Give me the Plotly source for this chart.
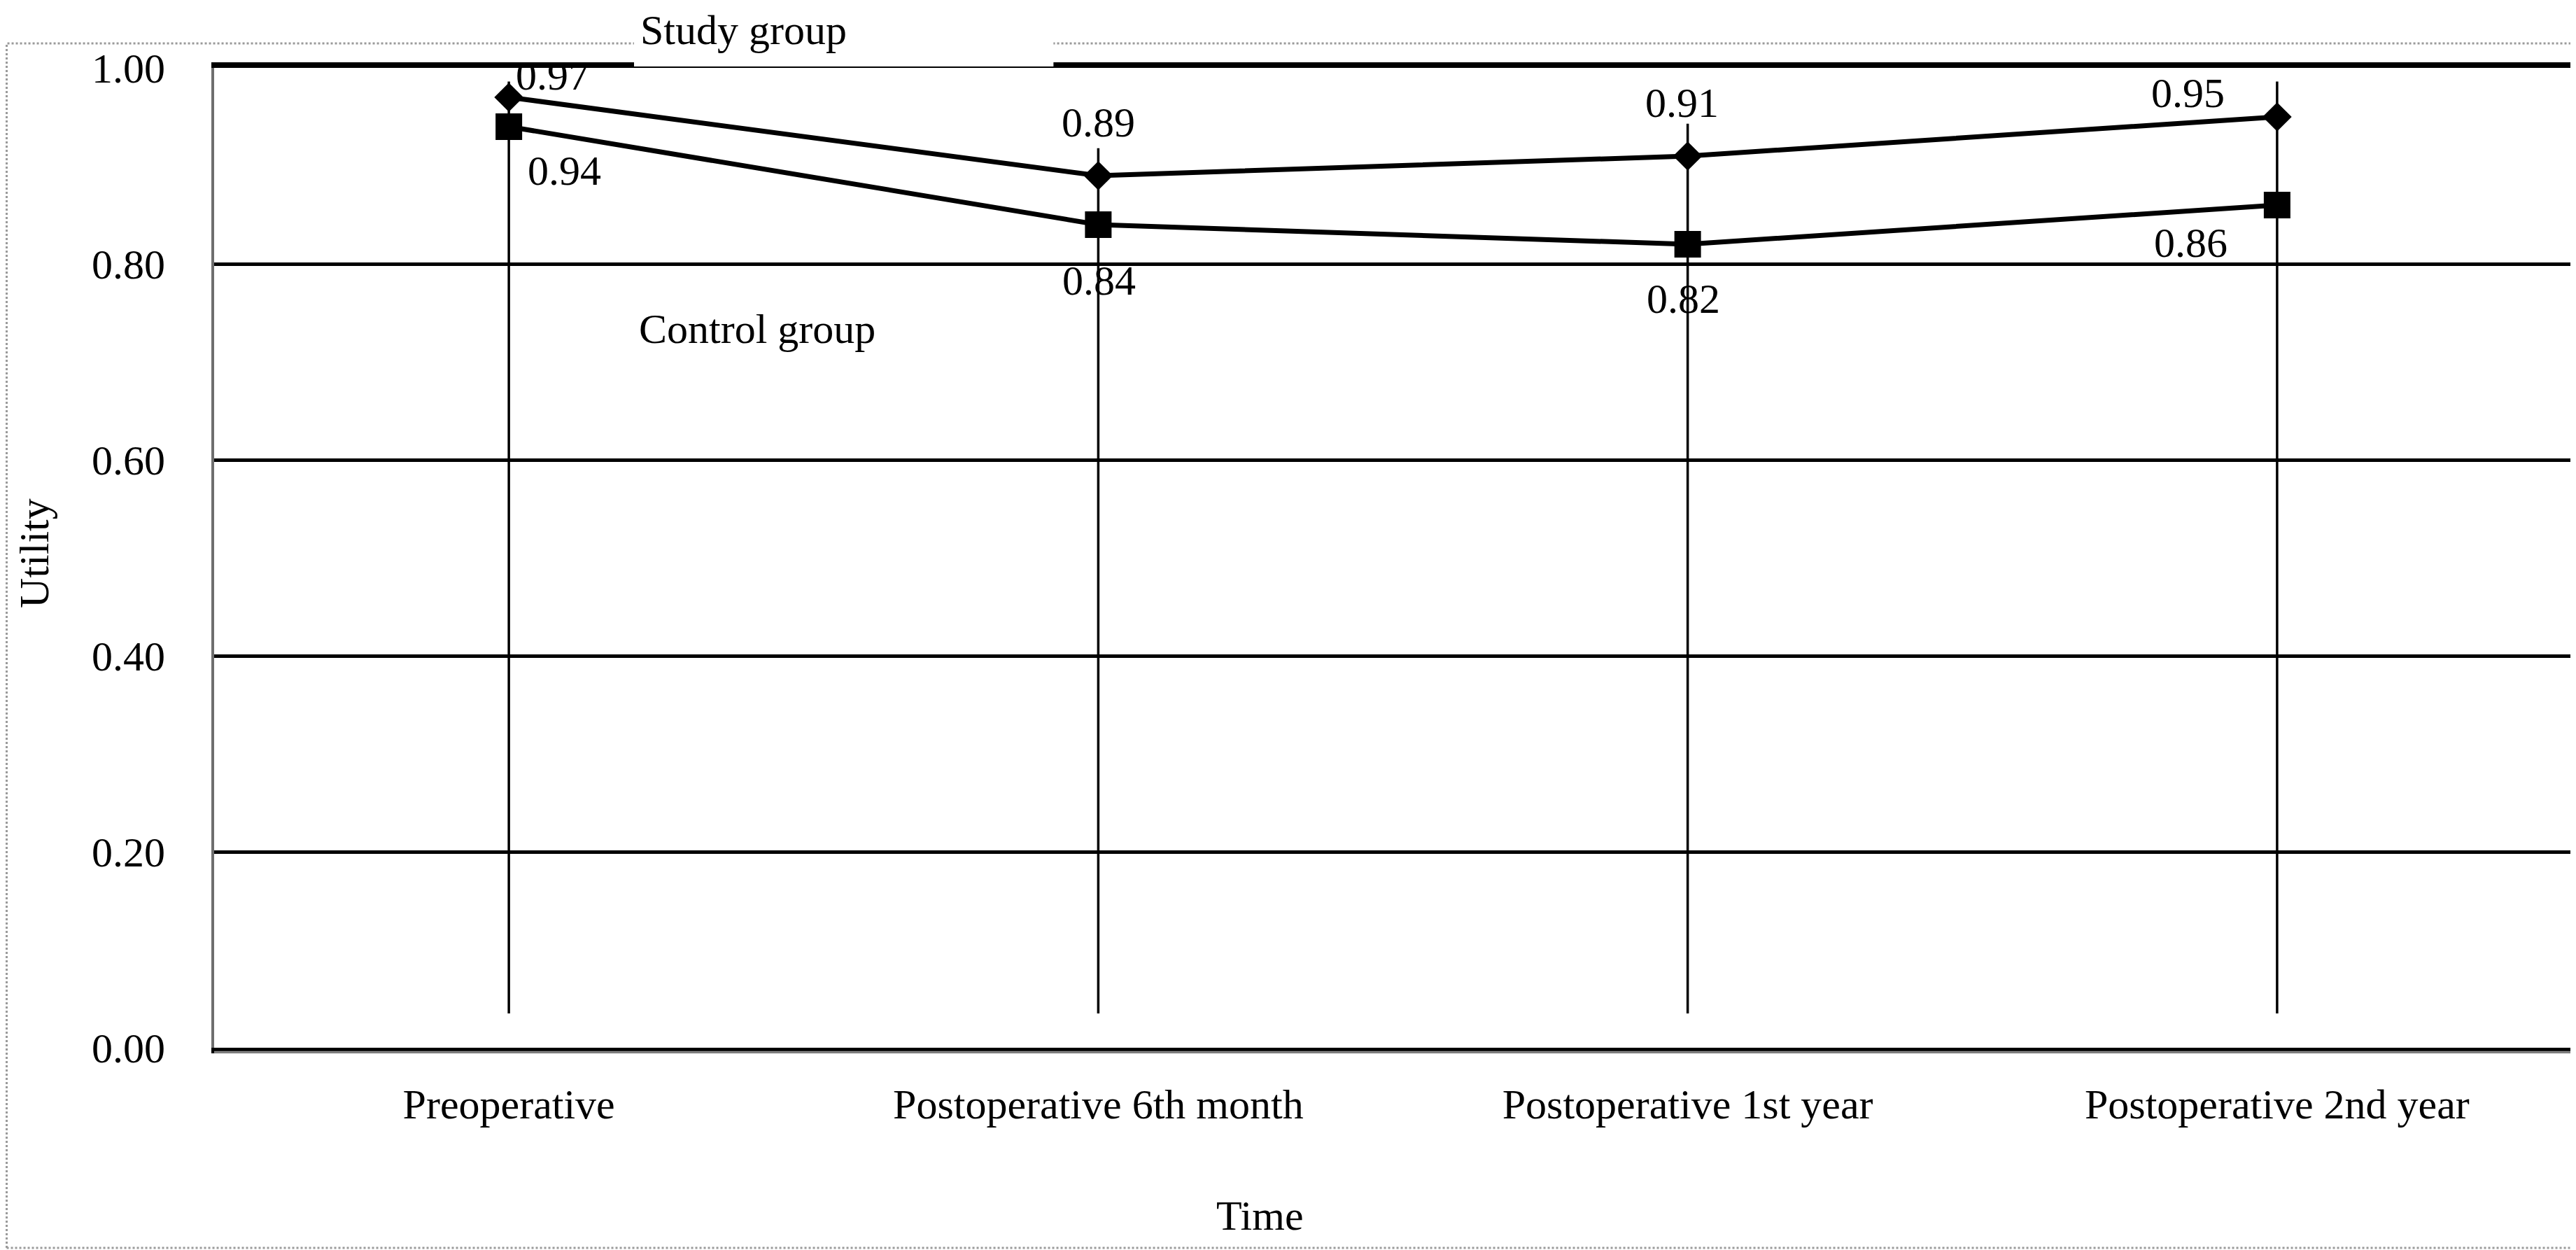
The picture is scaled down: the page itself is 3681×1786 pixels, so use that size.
import plotly.graph_objects as go

categories = ["Preoperative", "Postoperative 6th month", "Postoperative 1st year", "Postoperative 2nd year"]
study_group = [0.97, 0.89, 0.91, 0.95]
control_group = [0.94, 0.84, 0.82, 0.86]
vline_bottom = [0.035, 0.035, 0.035, 0.035]
vline_top = [0.986, 0.918, 0.943, 0.986]
y_ticks = [0.0, 0.2, 0.4, 0.6, 0.8, 1.0]
y_tick_labels = ["0.00", "0.20", "0.40", "0.60", "0.80", "1.00"]

FONT = "Liberation Serif, Times New Roman, serif"
FS = 60

fig = go.Figure()

# vertical drop lines
vx, vy = [], []
for c, b, t in zip(categories, vline_bottom, vline_top):
    vx += [c, c, None]
    vy += [b, t, None]
fig.add_trace(go.Scatter(x=vx, y=vy, mode="lines", line=dict(color="black", width=3.5),
                         showlegend=False, hoverinfo="skip"))

fig.add_trace(go.Scatter(x=categories, y=study_group, mode="lines+markers", name="Study group",
                         line=dict(color="black", width=7),
                         marker=dict(symbol="diamond", size=32, color="black"), showlegend=False))
fig.add_trace(go.Scatter(x=categories, y=control_group, mode="lines+markers", name="Control group",
                         line=dict(color="black", width=7),
                         marker=dict(symbol="square", size=38, color="black"), showlegend=False))

# data labels (offsets in px: dx, dy up)
study_offsets = [(62, 31), (0, 76), (-8, 76), (-127, 34)]
control_offsets = [(79, -63), (1, -80), (-6, -78), (-123, -54)]
for c, v, (dx, dy) in zip(categories, study_group, study_offsets):
    fig.add_annotation(x=c, y=v, xref="x", yref="y", text=f"{v:.2f}", showarrow=False,
                       xshift=dx, yshift=dy, font=dict(family=FONT, size=FS, color="black"))
for c, v, (dx, dy) in zip(categories, control_group, control_offsets):
    fig.add_annotation(x=c, y=v, xref="x", yref="y", text=f"{v:.2f}", showarrow=False,
                       xshift=dx, yshift=dy, font=dict(family=FONT, size=FS, color="black"))

# outer border
fig.add_shape(type="rect", xref="paper", yref="paper", x0=-0.0880, x1=1.0009, y0=-0.2043, y1=1.025,
              line=dict(color="#9a9a9a", width=3, dash="dot"), layer="below")
# second (gray) line under the bottom axis
fig.add_shape(type="line", xref="paper", yref="paper", x0=0, x1=1, y0=-0.0045, y1=-0.0045,
              line=dict(color="#8a8a8a", width=3), layer="above")
# white box behind "Study group"
fig.add_shape(type="rect", xref="paper", yref="paper", x0=0.1781, x1=0.356, y0=1.0014, y1=1.07,
              line=dict(width=0), fillcolor="white", layer="above")

fig.add_annotation(x=0.1802, y=1.0636, xref="paper", yref="paper", text="Study group", showarrow=False,
                   xanchor="left", yanchor="top", font=dict(family=FONT, size=FS, color="black"))
fig.add_annotation(x=0.1796, y=0.7336, xref="paper", yref="paper", text="Control group", showarrow=False,
                   xanchor="left", yanchor="middle", font=dict(family=FONT, size=FS, color="black"))
fig.add_annotation(x=0.4435, y=-0.1714, xref="paper", yref="paper", text="Time", showarrow=False,
                   xanchor="center", yanchor="middle", font=dict(family=FONT, size=FS, color="black"))
fig.add_annotation(x=-0.0763, y=0.505, xref="paper", yref="paper", text="Utility", showarrow=False,
                   textangle=-90, xanchor="center", yanchor="middle",
                   font=dict(family=FONT, size=FS, color="black"))

fig.update_layout(
    width=3673, height=1778,
    margin=dict(l=298, r=6, t=89, b=289, autoexpand=False),
    paper_bgcolor="white", plot_bgcolor="white",
    font=dict(family=FONT, size=FS, color="black"),
    showlegend=False,
)
fig.update_xaxes(type="category", range=[-0.5, 3.5], showgrid=False, zeroline=False,
                 showline=True, linecolor="black", linewidth=8, mirror=True,
                 ticks="", ticklabelstandoff=21,
                 tickfont=dict(family=FONT, size=FS, color="black"))
fig.update_yaxes(range=[0, 1], tickvals=y_ticks, ticktext=y_tick_labels,
                 showgrid=True, gridcolor="black", gridwidth=5, zeroline=False,
                 showline=True, linecolor="#6e6e6e", linewidth=4, mirror=True,
                 ticks="", ticklabelstandoff=54,
                 tickfont=dict(family=FONT, size=FS, color="black"))

fig.write_html("out.html")
